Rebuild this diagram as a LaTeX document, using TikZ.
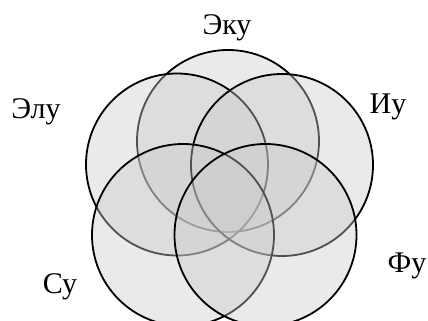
\documentclass[tikz,border=0pt]{standalone}
\usepackage{fontspec}
\setmainfont{Liberation Serif}
\definecolor{setfill}{RGB}{202,202,202}
\begin{document}
\begin{tikzpicture}[x=1pt,y=-1pt,
  setcircle/.style={draw=black,line width=1.8pt,fill=setfill,fill opacity=0.4},
  setlabel/.style={anchor=base,inner sep=0pt,font=\fontsize{30}{34}\selectfont}]
\useasboundingbox (0,0) rectangle (428,321);
\clip (0,0) rectangle (428,321);
\path[setcircle] (228,141) circle[radius=91];
\path[setcircle] (177,164.5) circle[radius=91];
\path[setcircle] (282,165) circle[radius=91];
\path[setcircle] (183,235) circle[radius=91];
\path[setcircle] (265.5,235) circle[radius=91];
\node[setlabel] (eku) at (227,35) {Эку};
\node[setlabel] (elu) at (36,118) {Элу};
\node[setlabel] (iu) at (388,113) {Иу};
\node[setlabel] (fu) at (407,272) {Фу};
\node[setlabel] (su) at (60,293) {Су};
\end{tikzpicture}
\end{document}
